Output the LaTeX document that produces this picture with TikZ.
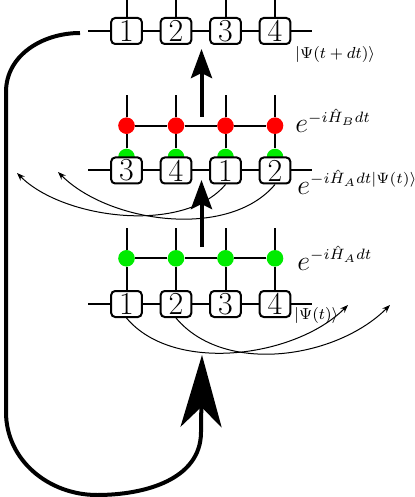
\RequirePackage{fix-cm}
\documentclass[tikz,border=0pt]{standalone}
\usepackage{amsmath,amssymb}
\usepackage{tikz}
\definecolor{gred}{RGB}{255,0,0}
\definecolor{ggreen}{RGB}{0,235,0}
\usetikzlibrary{arrows.meta,positioning}
\DeclareMathSizes{14}{14}{7.5}{5.5}

\begin{document}
\begin{tikzpicture}[x=0.5pt,y=0.5pt,
  site/.style={draw,line width=1pt,rounded corners=2pt,fill=white,inner sep=0pt,
    minimum width=15.3pt,minimum height=13pt,font=\fontsize{16}{16}\selectfont},
  gatedot/.style={circle,inner sep=0pt,minimum size=8.3pt},
  wire/.style={line width=1pt},
  bigarrow/.style={line width=2pt,-{Stealth[length=14.5pt,width=10.5pt,inset=2.5pt]}},
  swaparrow/.style={line width=0.5pt,-{Stealth[length=4pt,width=3pt]}},
  gatelbl/.style={anchor=base west,inner sep=0pt,font=\fontsize{14}{16}\selectfont},
  ketlbl/.style={anchor=base west,inner sep=0pt,font=\fontsize{8}{9}\selectfont}
]
  \useasboundingbox (0,0) rectangle (415,-497);
  % Top row: state at t+dt
  \coordinate (tl) at (88,-31); \coordinate (tr) at (312,-31);
  \draw[wire] (tl) -- (tr);
  \node[site] (t1) at (126.5,-31) {1};
  \node[site] (t2) at (176,-31) {2};
  \node[site] (t3) at (225.5,-31) {3};
  \node[site] (t4) at (275,-31) {4};
  \foreach \i in {1,...,4} \draw[wire] (t\i.north) -- +(0,18);
  \node[ketlbl] (k1) at (295,-59) {$|\Psi(t+dt)\rangle$};
  \coordinate (a1s) at (201.5,-117); \coordinate (a1e) at (201.5,-49);
  \draw[bigarrow] (a1s) -- (a1e);

  % Middle row: swapped sites with H_B gates
  \coordinate (ml) at (88,-170.5); \coordinate (mr) at (312,-170.5);
  \draw[wire] (ml) -- (mr);
  \foreach \x/\n in {126.5/1,176/2,225.5/3,275/4}
    \node[gatedot,fill=ggreen] (g\n) at (\x,-157) {};
  \node[site] (m1) at (126.5,-170.5) {3};
  \node[site] (m2) at (176,-170.5) {4};
  \node[site] (m3) at (225.5,-170.5) {1};
  \node[site] (m4) at (275,-170.5) {2};
  \foreach \x/\n in {126.5/1,176/2,225.5/3,275/4}
    \node[gatedot,fill=gred] (r\n) at (\x,-125.7) {};
  \draw[wire] (r1) -- (r2) -- (r3) -- (r4);
  \foreach \n in {1,...,4} {
    \draw[wire] (r\n) -- (g\n);
    \draw[wire] (r\n) -- ++(0,30.7);
  }
  \node[gatelbl] (hb) at (295,-133) {$e^{-i\hat{H}_B dt}$};
  \node[gatelbl] (ha1) at (297,-194) {$e^{-i\hat{H}_A dt|\Psi(t)\rangle}$};
  \coordinate (a2s) at (201.5,-247); \coordinate (a2e) at (201.5,-180);
  \draw[bigarrow] (a2s) -- (a2e);
  % swaps back
  \coordinate (s1) at (17,-173); \coordinate (s2) at (58,-172);
  \draw[swaparrow] (m3.south) to[out=-130,in=-45,looseness=0.8] (s1);
  \draw[swaparrow] (m4.south) to[out=-130,in=-45,looseness=0.85] (s2);

  % Bottom row: state at t with H_A gates
  \coordinate (bl) at (88,-304); \coordinate (br) at (312,-304);
  \draw[wire] (bl) -- (br);
  \node[site] (b1) at (126.5,-304) {1};
  \node[site] (b2) at (176,-304) {2};
  \node[site] (b3) at (225.5,-304) {3};
  \node[site] (b4) at (275,-304) {4};
  \foreach \x/\n in {126.5/1,176/2,225.5/3,275/4}
    \node[gatedot,fill=ggreen] (h\n) at (\x,-258.3) {};
  \draw[wire] (h1) -- (h2) -- (h3) -- (h4);
  \foreach \n in {1,...,4} {
    \draw[wire] (h\n) -- (b\n);
    \draw[wire] (h\n) -- ++(0,30.3);
  }
  \node[gatelbl] (ha2) at (297,-270) {$e^{-i\hat{H}_A dt}$};
  \node[ketlbl] (k2) at (294,-319) {$|\Psi(t)\rangle$};
  % swaps forward
  \coordinate (s3) at (348,-305); \coordinate (s4) at (390,-305);
  \draw[swaparrow] (b1.south) to[out=-50,in=-135,looseness=0.85] (s3);
  \draw[swaparrow] (b2.south) to[out=-50,in=-135,looseness=0.9] (s4);

  % Loop back to the start
  \coordinate (lp) at (80,-33); \coordinate (lq) at (202,-355);
  \draw[line width=2pt,-{Stealth[length=36pt,width=20.5pt,inset=10pt]}]
    (lp) to[out=180,in=90] (6,-92) -- (6,-412) to[out=-90,in=180] (97,-495)
    to[out=0,in=-90] (201,-432) -- (lq);
\end{tikzpicture}
\end{document}
